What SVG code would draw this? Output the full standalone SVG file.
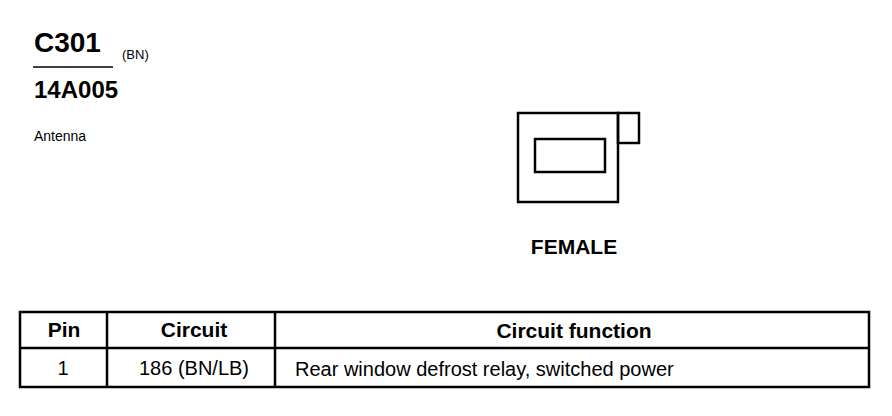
<svg xmlns="http://www.w3.org/2000/svg" width="892" height="416" viewBox="0 0 892 416">
<style>
text{font-family:"Liberation Sans",Arial,sans-serif;fill:#000}
.b{font-weight:bold}
.ln{fill:none;stroke:#000;stroke-width:2.5}
.th{font-size:21px;font-weight:bold;text-anchor:middle}
.td{font-size:20px}
</style>
<rect width="892" height="416" fill="#fff"/>
<g id="title">
<text x="34" y="52" class="b" font-size="28">C301</text>
<text x="122" y="59" font-size="13">(BN)</text>
<line x1="33" y1="67" x2="113" y2="67" stroke="#000" stroke-width="1.5"/>
<text x="34" y="98" class="b" font-size="24">14A005</text>
<text x="34" y="141" font-size="14">Antenna</text>
</g>
<g id="connector">
<rect x="518" y="113" width="100" height="89" class="ln"/>
<rect x="618" y="113" width="21" height="30" class="ln"/>
<rect x="535" y="139" width="70" height="33" class="ln"/>
<text x="574" y="254" class="b" font-size="21" text-anchor="middle">FEMALE</text>
</g>
<g id="table">
<rect x="20" y="312" width="849" height="75" class="ln"/>
<line x1="20" y1="348" x2="869" y2="348" class="ln"/>
<line x1="107" y1="312" x2="107" y2="387" class="ln"/>
<line x1="275" y1="312" x2="275" y2="387" class="ln"/>
<text x="64" y="337" class="th">Pin</text>
<text x="194" y="337" class="th">Circuit</text>
<text x="574" y="338" class="th">Circuit function</text>
<text x="63" y="375" class="td" text-anchor="middle">1</text>
<text x="194" y="375" class="td" text-anchor="middle">186 (BN/LB)</text>
<text x="295" y="376" class="td" font-size="21">Rear window defrost relay, switched power</text>
</g>
</svg>
